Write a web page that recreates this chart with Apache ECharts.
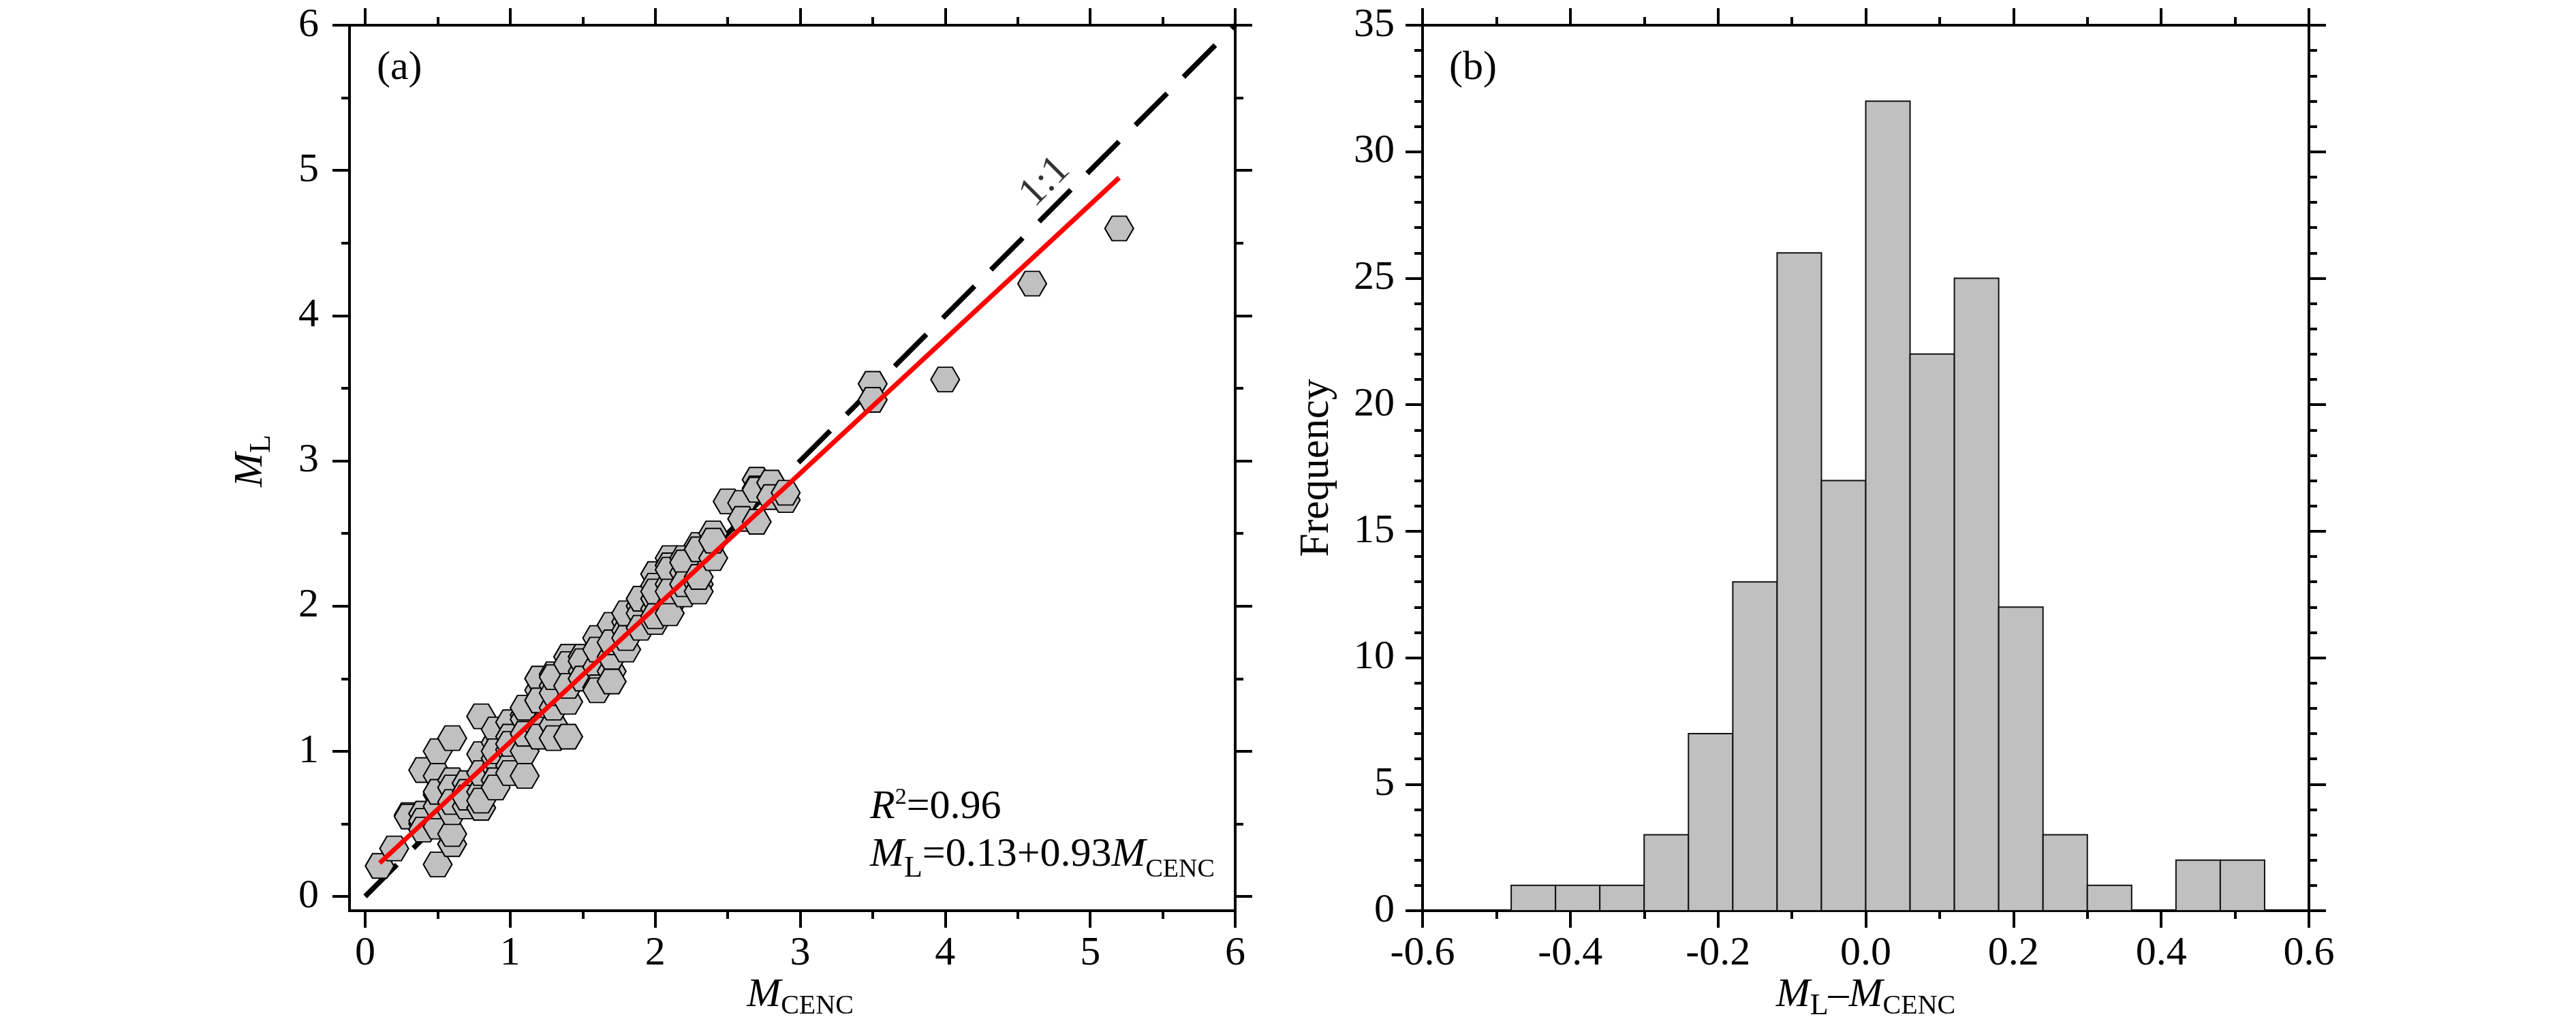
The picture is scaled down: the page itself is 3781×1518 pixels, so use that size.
<!DOCTYPE html>
<html>
<head>
<meta charset="utf-8">
<script src="https://cdn.jsdelivr.net/npm/echarts@6/dist/echarts.min.js"></script>
<style>html,body{margin:0;padding:0;background:#fff}#c{width:3781px;height:1518px}</style>
</head>
<body>
<div id="c"></div>
<script>
// ---- data ----
const mcenc = [
 0.1, 0.2, 0.3,0.3,
 0.4,0.4,0.4,0.4,0.4,
 0.5,0.5,0.5,0.5,0.5,0.5,0.5,0.5,
 0.6,0.6,0.6,0.6,0.6,0.6,0.6,
 0.7,0.7,0.7,0.7,
 0.8,0.8,0.8,0.8,0.8,0.8,
 0.9,0.9,0.9,0.9,0.9,0.9,0.9,
 1.0,1.0,1.0,1.0,1.0,1.0,
 1.1,1.1,1.1,1.1,1.1,1.1,
 1.2,1.2,1.2,1.2,1.2,
 1.3,1.3,1.3,1.3,1.3,1.3,1.3,
 1.4,1.4,1.4,1.4,1.4,
 1.5,1.5,1.5,1.5,
 1.6,1.6,1.6,1.6,1.6,
 1.7,1.7,1.7,1.7,1.7,
 1.8,1.8,1.8,1.8,1.8,
 1.9,1.9,1.9,1.9,
 2.0,2.0,2.0,2.0,2.0,2.0,2.0,
 2.1,2.1,2.1,2.1,2.1,2.1,2.1,
 2.2,2.2,2.2,2.2,2.2,
 2.3,2.3,2.3,2.3,2.3,
 2.4,2.4,2.4,
 2.5, 2.6,2.6,
 2.7,2.7,2.7,2.7,
 2.8,2.8, 2.9,2.9,
 3.5,3.5, 4.0, 4.6, 5.2
];
const ml = [
 0.21, 0.33, 0.56,0.55,
 0.87,0.57,0.50,0.52,0.46,
 0.22,0.50,0.70,1.00,0.83,0.48,0.62,0.72,
 0.36,0.43,1.09,0.80,0.58,0.75,0.65,
 0.78,0.72,0.62,0.68,
 0.72,0.61,1.24,0.98,0.66,0.85,
 1.06,0.89,1.15,0.95,0.80,0.75,1.00,
 1.01,1.20,0.90,1.10,0.85,1.05,
 1.00,0.83,1.25,1.22,1.12,1.30,
 1.42,1.50,1.35,1.15,1.10,
 1.18,1.09,1.53,1.45,1.30,1.40,1.51,
 1.10,1.34,1.65,1.60,1.45,
 1.65,1.55,1.62,1.50,
 1.58,1.44,1.78,1.42,1.70,
 1.87,1.55,1.48,1.65,1.75,
 1.89,1.83,1.70,1.78,1.95,
 2.00,1.95,2.05,1.85,
 2.22,2.14,1.98,1.89,2.05,2.10,1.93,
 2.33,2.28,2.15,2.00,1.95,2.25,2.10,
 2.33,2.23,2.08,2.30,2.15,
 2.42,2.39,2.15,2.10,2.20,
 2.50,2.33,2.45,
 2.72, 2.71,2.60,
 2.87,2.81,2.58,2.80,
 2.85,2.75, 2.73,2.78,
 3.53,3.42, 3.56, 4.22, 4.60
];
const oneToOneLine = [[0, 0], [6, 6]];
const fitLine = [[0.1, 0.23], [5.2, 4.95]];
const oneToOneLabelPos = [[4.69, 4.92]];
const histEdges = [-0.48,-0.42,-0.36,-0.30,-0.24,-0.18,-0.12,-0.06,0.00,0.06,0.12,0.18,0.24,0.30,0.36,0.42,0.48,0.54];
const histCounts = [1,1,1,3,7,13,26,17,32,22,25,12,3,1,0,2,2];

// ---- styling ----
const F = '"Liberation Serif", "Times New Roman", serif';
const K = '#000';
function tok(extra) {
  return Object.assign({fontFamily: F, fontWeight: 'normal', fontSize: 60, lineHeight: 60, color: K}, extra);
}
const rich = {
  i: tok({fontStyle: 'italic'}),
  n: tok({}),
  sL: tok({fontSize: 44, padding: [40, 0, 0, 0]}),
  sL2: tok({fontSize: 44, padding: [32, 0, 0, 0]}),
  sC: tok({fontSize: 40, padding: [33, 0, 0, 0]}),
  sC2: tok({fontSize: 38, padding: [44, 0, 0, 0]}),
  sup: tok({fontSize: 34, padding: [0, 0, 28, 0]})
};
function ax(o) {
  return Object.assign({
    type: 'value',
    splitLine: {show: false},
    minorSplitLine: {show: false},
    axisLine: {show: true, onZero: false, lineStyle: {color: K, width: 4}},
    axisTick: {show: true, inside: false, length: 25, lineStyle: {color: K, width: 4}},
    minorTick: {show: true, splitNumber: 2, length: 12, lineStyle: {color: K, width: 4}},
    axisLabel: {show: false},
    nameMoveOverlap: false
  }, o);
}
function lbl(margin, fmt) {
  const o = {show: true, margin: margin, fontFamily: F, fontSize: 60, color: K};
  if (fmt) o.formatter = fmt;
  return o;
}
const fmt1 = v => (Math.abs(v) < 1e-9 ? 0 : v).toFixed(1);

const scatterData = mcenc.map((x, i) => [x, ml[i]]);
const histData = histCounts.map((c, i) => [histEdges[i], histEdges[i + 1], c]);
const hexagon = 'path://M-1 0L-0.5 -0.866L0.5 -0.866L1 0L0.5 0.866L-0.5 0.866Z';

const option = {
  animation: false,
  backgroundColor: '#fff',
  title: [
    {text: '(a)', left: 553, top: 70, padding: 0, textStyle: {fontFamily: F, fontWeight: 'normal', fontSize: 60, lineHeight: 60, color: K}},
    {text: '(b)', left: 2127, top: 70, padding: 0, textStyle: {fontFamily: F, fontWeight: 'normal', fontSize: 60, lineHeight: 60, color: K}},
    {text: '{i|R}{sup|2}{n|=0.96}', left: 1277, top: 1155, padding: 0, textStyle: {fontFamily: F, fontWeight: 'normal', fontSize: 60, color: K, rich: rich}},
    {text: '{i|M}{sL|L}{n|=0.13+0.93}{i|M}{sC2|CENC}', left: 1277, top: 1225, padding: 0, textStyle: {fontFamily: F, fontWeight: 'normal', fontSize: 60, color: K, rich: rich}}
  ],
  grid: [
    {left: 513, top: 37, width: 1300, height: 1300, show: true, borderColor: K, borderWidth: 4, backgroundColor: 'transparent', containLabel: false, outerBoundsMode: 'none'},
    {left: 536, top: 37, width: 1277, height: 1279, containLabel: false, outerBoundsMode: 'none'},
    {left: 2088, top: 37, width: 1301, height: 1300, containLabel: false, outerBoundsMode: 'none'}
  ],
  xAxis: [
    {type: 'value', gridIndex: 0, show: false, min: 0, max: 1},
    ax({gridIndex: 1, position: 'bottom', min: 0, max: 6, interval: 1, offset: 21,
        axisLine: {show: false, onZero: false},
        axisLabel: lbl(33),
        name: '{i|M}{sC|CENC}', nameLocation: 'middle', nameGap: 94,
        nameTextStyle: {fontFamily: F, fontSize: 60, color: K, rich: rich}}),
    ax({gridIndex: 1, position: 'top', min: 0, max: 6, interval: 1, axisLine: {show: false, onZero: false}}),
    ax({gridIndex: 2, position: 'bottom', min: -0.6, max: 0.6, interval: 0.2,
        axisLabel: lbl(33, fmt1),
        name: '{i|M}{sL2|L}{n|–}{i|M}{sC|CENC}', nameLocation: 'middle', nameGap: 94,
        nameTextStyle: {fontFamily: F, fontSize: 60, color: K, rich: rich}}),
    ax({gridIndex: 2, position: 'top', min: -0.6, max: 0.6, interval: 0.2})
  ],
  yAxis: [
    {type: 'value', gridIndex: 0, show: false, min: 0, max: 1},
    ax({gridIndex: 1, position: 'left', min: 0, max: 6, interval: 1, offset: 23,
        axisLine: {show: false, onZero: false},
        axisLabel: lbl(45),
        name: '{i|M}{sL2|L}', nameLocation: 'middle', nameGap: 115,
        nameTextStyle: {fontFamily: F, fontSize: 60, color: K, rich: rich}}),
    ax({gridIndex: 1, position: 'right', min: 0, max: 6, interval: 1, axisLine: {show: false, onZero: false}}),
    ax({gridIndex: 2, position: 'left', min: 0, max: 35, interval: 5,
        minorTick: {show: true, splitNumber: 5, length: 12, lineStyle: {color: K, width: 4}},
        axisLabel: lbl(41),
        name: 'Frequency', nameLocation: 'middle', nameGap: 124,
        nameTextStyle: {fontFamily: F, fontSize: 62, color: K}}),
    ax({gridIndex: 2, position: 'right', min: 0, max: 35, interval: 5,
        minorTick: {show: true, splitNumber: 5, length: 12, lineStyle: {color: K, width: 4}}})
  ],
  series: [
    {type: 'line', xAxisIndex: 1, yAxisIndex: 1, data: oneToOneLine, symbol: 'none', clip: false, silent: true, z: 2,
     lineStyle: {color: K, width: 7.5, type: [66, 34], cap: 'butt'}},
    {type: 'scatter', xAxisIndex: 1, yAxisIndex: 1, data: scatterData, symbol: hexagon, symbolSize: [42, 36], z: 3, silent: true,
     itemStyle: {color: '#c0c0c0', borderColor: K, borderWidth: 2, opacity: 1}},
    {type: 'line', xAxisIndex: 1, yAxisIndex: 1, data: fitLine, symbol: 'none', clip: false, silent: true, z: 4,
     lineStyle: {color: '#ff0000', width: 7, cap: 'butt'}},
    {type: 'scatter', xAxisIndex: 1, yAxisIndex: 1, data: oneToOneLabelPos, symbolSize: 1, z: 5, silent: true,
     itemStyle: {color: 'rgba(0,0,0,0)'},
     label: {show: true, position: 'inside', formatter: '1:1', rotate: 45, fontFamily: F, fontSize: 60, color: K}},
    {type: 'custom', xAxisIndex: 3, yAxisIndex: 3, data: histData, silent: true, z: 2,
     encode: {x: [0, 1], y: 2},
     renderItem: function (params, api) {
       const c = api.value(2);
       if (!c) return null;
       const p0 = api.coord([api.value(0), c]);
       const p1 = api.coord([api.value(1), 0]);
       return {type: 'rect', shape: {x: p0[0], y: p0[1], width: p1[0] - p0[0], height: p1[1] - p0[1]},
               style: {fill: '#c0c0c0', stroke: '#111', lineWidth: 2}};
     }}
  ]
};
const chart = echarts.init(document.getElementById('c'), null, {renderer: 'canvas'});
chart.setOption(option);
</script>
</body>
</html>
